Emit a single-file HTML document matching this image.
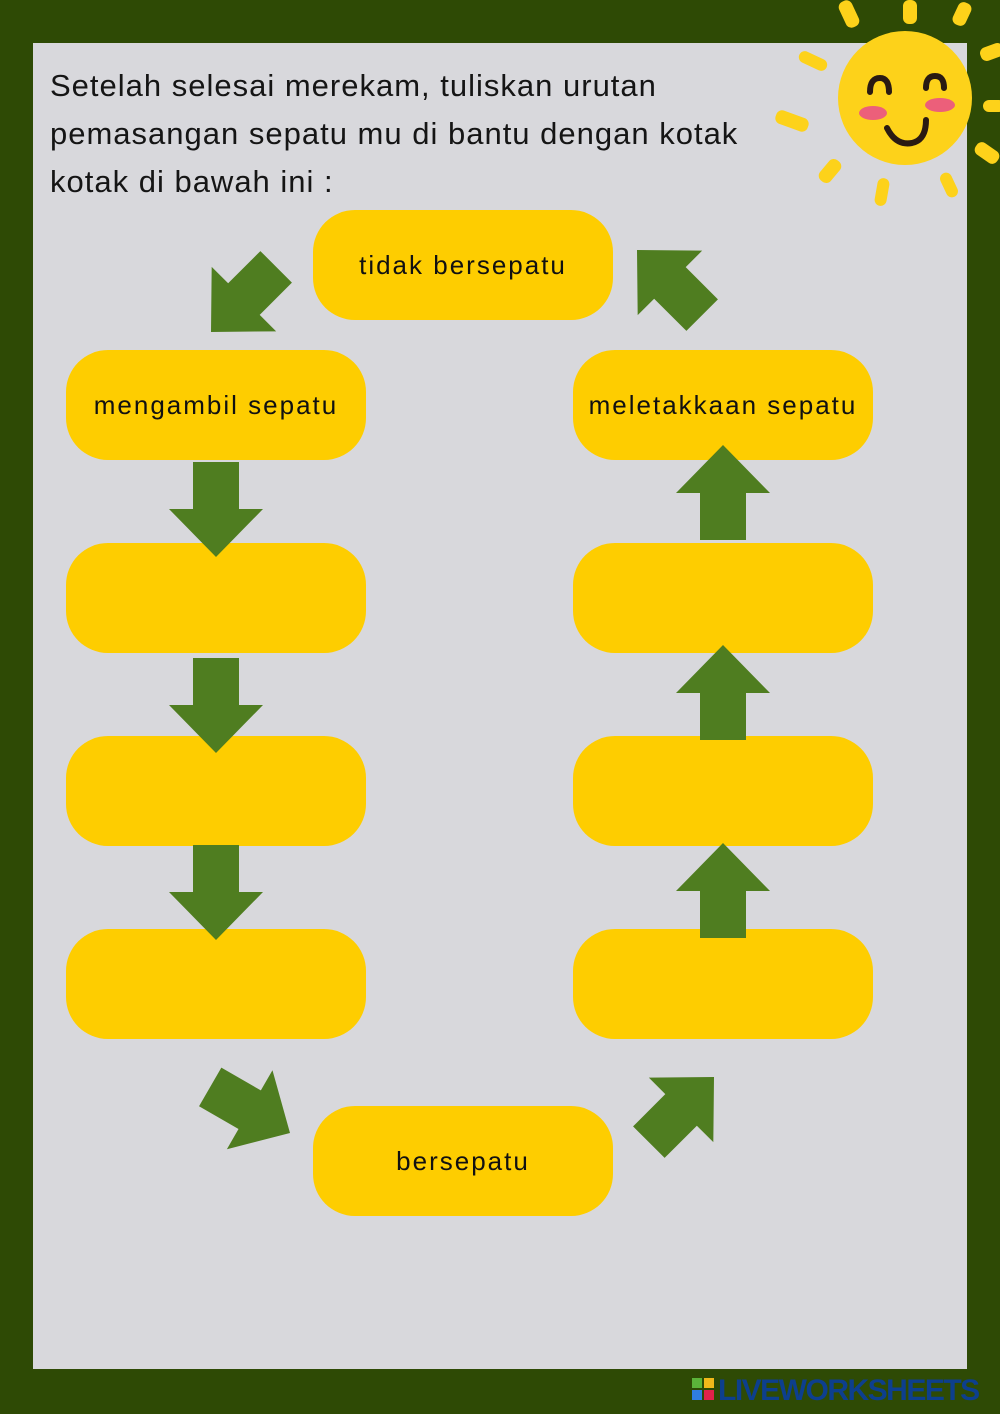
<!DOCTYPE html>
<html><head><meta charset="utf-8"><style>
body{margin:0;width:1000px;height:1414px;background:#2e4a05;position:relative;overflow:hidden;font-family:"Liberation Sans","DejaVu Sans",sans-serif}
#panel{position:absolute;left:33px;top:43px;width:934px;height:1326px;background:#d8d8dc}
.title{position:absolute;left:50px;top:62px;font-size:31px;line-height:48px;color:#151515;letter-spacing:1px}
.box{position:absolute;width:300px;height:110px;border-radius:42px;background:#fecd00;display:flex;align-items:center;justify-content:center;font-size:26px;color:#111;letter-spacing:2px}
svg{position:absolute;left:0;top:0}
.logo{position:absolute;left:718px;top:1374px;font-size:30px;font-weight:bold;color:#0d3f8e;letter-spacing:-1.5px}
</style></head><body>
<div id="panel"></div>
<div class="title">Setelah selesai merekam, tuliskan urutan<br>pemasangan sepatu mu di bantu dengan kotak<br>kotak di bawah ini :</div>
<div class="box" style="left:313px;top:210px">tidak bersepatu</div>
<div class="box" style="left:66px;top:350px">mengambil sepatu</div>
<div class="box" style="left:66px;top:543px"></div>
<div class="box" style="left:66px;top:736px"></div>
<div class="box" style="left:66px;top:929px"></div>
<div class="box" style="left:573px;top:350px">meletakkaan sepatu</div>
<div class="box" style="left:573px;top:543px"></div>
<div class="box" style="left:573px;top:736px"></div>
<div class="box" style="left:573px;top:929px"></div>
<div class="box" style="left:313px;top:1106px">bersepatu</div>
<svg width="1000" height="1414">
<defs><polygon id="a" points="0,0 -48,-47 -48,-23 -95,-23 -95,23 -48,23 -48,47" fill="#4f7d20"/></defs>
<use href="#a" transform="translate(216,557) rotate(90)"/>
<use href="#a" transform="translate(216,753) rotate(90)"/>
<use href="#a" transform="translate(216,940) rotate(90)"/>
<use href="#a" transform="translate(723,445) rotate(-90)"/>
<use href="#a" transform="translate(723,645) rotate(-90)"/>
<use href="#a" transform="translate(723,843) rotate(-90)"/>
<use href="#a" transform="translate(211,332) rotate(135) scale(0.97)"/>
<use href="#a" transform="translate(637,250) rotate(-135) scale(0.97)"/>
<use href="#a" transform="translate(290,1133) rotate(30) scale(0.97)"/>
<use href="#a" transform="translate(714,1077) rotate(-45) scale(0.97)"/>
<g fill="#fdd21a">
<rect x="842" y="0" width="14" height="28" rx="6" transform="rotate(-25 849 14)"/>
<rect x="903" y="0" width="14" height="24" rx="6"/>
<rect x="955" y="2" width="14" height="24" rx="6" transform="rotate(25 962 14)"/>
<rect x="985" y="40" width="14" height="24" rx="6" transform="rotate(70 992 52)"/>
<rect x="988" y="95" width="12" height="22" rx="6" transform="rotate(90 994 106)"/>
<rect x="980" y="140" width="14" height="26" rx="6" transform="rotate(-55 987 153)"/>
<rect x="943" y="172" width="12" height="26" rx="6" transform="rotate(-25 949 185)"/>
<rect x="876" y="178" width="12" height="28" rx="6" transform="rotate(10 882 192)"/>
<rect x="823" y="158" width="14" height="26" rx="6" transform="rotate(40 830 171)"/>
<rect x="785" y="104" width="14" height="34" rx="6" transform="rotate(-70 792 121)"/>
<rect x="807" y="46" width="12" height="30" rx="6" transform="rotate(-65 813 61)"/>
<circle cx="905" cy="98" r="67"/>
</g>
<ellipse cx="873" cy="113" rx="14" ry="7" fill="#ec5f7a"/>
<ellipse cx="940" cy="105" rx="15" ry="7" fill="#ec5f7a"/>
<g fill="none" stroke="#2a1a12" stroke-width="6" stroke-linecap="round">
<path d="M870 92 Q870 78 880 78 Q889 78 889 92"/>
<path d="M926 88 Q926 76 935 76 Q944 76 944 88"/>
<path d="M887 128 Q896 146 912 143 Q926 140 926 120"/>
</g>
<rect x="692" y="1378" width="10" height="10" fill="#5bb33a"/><rect x="704" y="1378" width="10" height="10" fill="#f2b81a"/>
<rect x="692" y="1390" width="10" height="10" fill="#2f7de0"/><rect x="704" y="1390" width="10" height="10" fill="#e0224a"/>
</svg>
<div class="logo">LIVEWORKSHEETS</div>
</body></html>
